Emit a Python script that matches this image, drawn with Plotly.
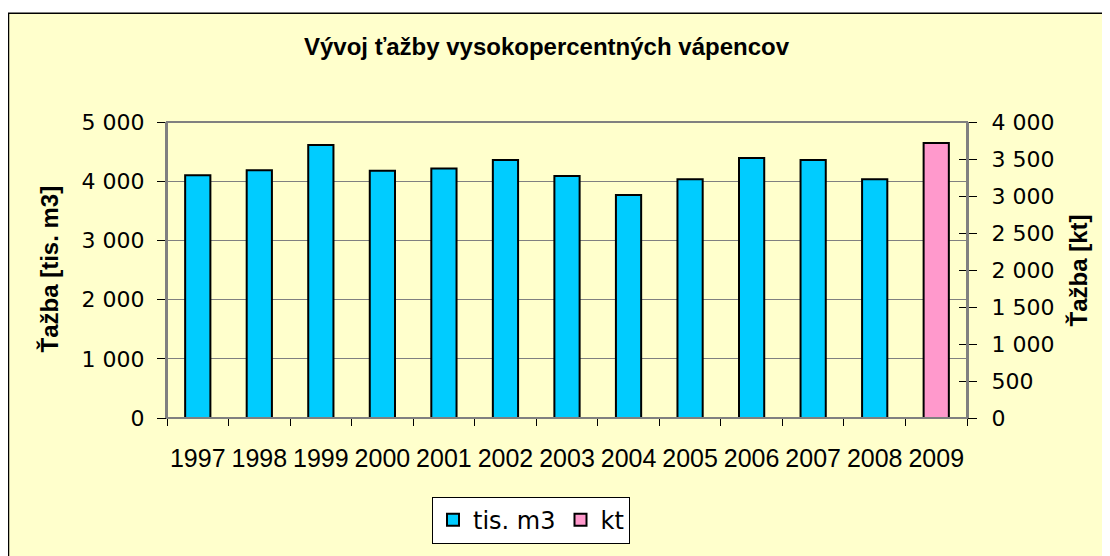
import plotly.graph_objects as go

years = ["1997", "1998", "1999", "2000", "2001", "2002", "2003",
         "2004", "2005", "2006", "2007", "2008", "2009"]
tis_m3 = [4099, 4187, 4613, 4177, 4215, 4360, 4087, 3767, 4032, 4393, 4360, 4032, None]
kt = [None, None, None, None, None, None, None, None, None, None, None, None, 3717]

# page body has an 8px margin, so figure pixel = page pixel - 8
W, H = 1102, 548
ml, mr, mt, mb = 159, 143, 114, 133
pw, ph = W - ml - mr, H - mt - mb
OFF = 8


def px(x):
    return (x - OFF - ml) / pw


def py(y):
    return (H - mb - (y - OFF)) / ph


ARIAL = "Liberation Sans, Arial, sans-serif"
DEJAVU = "DejaVu Sans, sans-serif"

fig = go.Figure()
fig.add_trace(go.Bar(x=years, y=tis_m3, name="tis. m3",
                     marker=dict(color="#00CCFF", line=dict(color="black", width=2)),
                     width=0.41, yaxis="y"))
fig.add_trace(go.Bar(x=years, y=kt, name="kt",
                     marker=dict(color="#FF99CC", line=dict(color="black", width=2)),
                     width=0.41, yaxis="y2"))
# invisible trace to activate the inside-tick axis on the right
fig.add_trace(go.Bar(x=years, y=[None] * len(years), yaxis="y3", showlegend=False,
                     hoverinfo="skip", width=0.41))

fig.update_layout(
    width=W, height=H,
    margin=dict(l=ml, r=mr, t=mt, b=mb),
    paper_bgcolor="white",
    plot_bgcolor="white",
    barmode="overlay",
    separators=", ",
    font=dict(family=ARIAL, size=20, color="black"),
    title=dict(text="<b>Vývoj ťažby vysokopercentných vápencov</b>", x=px(546.5), xref="paper",
               xanchor="center", yref="container", y=1 - (47 - OFF) / H, yanchor="middle",
               font=dict(family=ARIAL, size=24)),
    xaxis=dict(type="category", range=[-0.5, len(years) - 0.5], showline=True, linecolor="black",
               linewidth=1, ticks="outside", tickson="boundaries", ticklen=7, tickcolor="black",
               tickangle=0, tickfont=dict(family=ARIAL, size=25), ticklabelstandoff=18,
               showgrid=False),
    yaxis=dict(range=[0, 5000], dtick=1000, tickformat=",d", showgrid=True, gridcolor="#808080",
               gridwidth=1, showline=True, linecolor="#808080", linewidth=2, ticks="outside",
               ticklen=8, tickcolor="black", tickfont=dict(family=DEJAVU, size=22),
               ticklabelstandoff=8, zeroline=False),
    yaxis2=dict(range=[0, 4000], dtick=500, tickformat=",d", overlaying="y", side="right",
                anchor="x", showgrid=False, showline=True, linecolor="#808080", linewidth=2,
                ticks="outside", ticklen=8, tickcolor="black", tickfont=dict(family=DEJAVU, size=22),
                ticklabelstandoff=10, zeroline=False),
    yaxis3=dict(range=[0, 4000], dtick=500, overlaying="y", side="right", anchor="x",
                showgrid=False, showline=False, ticks="inside", ticklen=8, tickcolor="black",
                showticklabels=False, zeroline=False),
    legend=dict(orientation="h", x=px(531), xanchor="center", y=py(527), yanchor="middle",
                bgcolor="white", bordercolor="black", borderwidth=1,
                font=dict(family=DEJAVU, size=24), traceorder="normal", itemwidth=30),
    showlegend=True,
    annotations=[
        dict(text="<b>Ťažba [tis. m3]</b>", xref="paper", yref="paper", x=px(50), y=py(272),
             xanchor="center", yanchor="middle", textangle=-90, showarrow=False,
             font=dict(family=ARIAL, size=24)),
        dict(text="<b>Ťažba [kt]</b>", xref="paper", yref="paper", x=px(1078), y=py(273),
             xanchor="center", yanchor="middle", textangle=-90, showarrow=False,
             font=dict(family=ARIAL, size=24)),
    ],
)

# outer chart border / background
fig.add_shape(type="rect", xref="paper", yref="paper", x0=px(8.5), x1=px(1125), y0=py(575),
              y1=py(11.5), fillcolor="#FFFFCC", line=dict(color="black", width=1.5), layer="below")
# plot area border
fig.add_shape(type="rect", xref="paper", yref="paper", x0=0, x1=1, y0=0, y1=1,
              line=dict(color="#808080", width=2), fillcolor="rgba(0,0,0,0)", layer="above")

fig.write_html("out.html")
